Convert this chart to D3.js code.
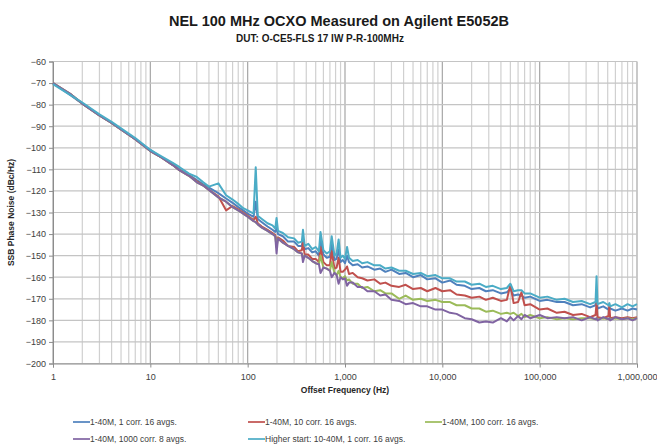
<!DOCTYPE html>
<html>
<head>
<meta charset="utf-8">
<script src="https://cdn.jsdelivr.net/npm/d3@7"></script>
<style>
  body { margin: 0; background: #fff; }
  svg { display: block; font-family: "Liberation Sans", Arial, sans-serif; }
</style>
</head>
<body>
<div id="chart"></div>
<script>
//
//  SSB phase noise chart - NEL 100 MHz OCXO on E5052B
//

// Offset frequencies (Hz), shared by all traces
var freqs = [
  1, 1.5, 2, 3, 4, 5, 7, 10, 13, 17,
  20, 25, 30, 35, 40, 50, 60, 70, 80, 90,
  100, 115, 121, 127, 140, 160, 180, 192, 198, 205,
  230, 260, 300, 330, 360, 370, 385, 420, 460, 500,
  540, 560, 600, 650, 700, 730, 780, 820, 860, 900,
  950, 1000, 1050, 1100, 1200, 1350, 1500, 1700, 2000, 2300,
  2600, 3000, 3600, 4200, 5000, 6000, 7000, 8500, 10000, 12000,
  14000, 17000, 20000, 24000, 28000, 33000, 40000, 46000, 50000, 54000,
  60000, 65000, 70000, 80000, 100000, 120000, 150000, 180000, 220000, 270000,
  330000, 375000, 384000, 393000, 450000, 510000, 520000, 530000, 600000, 700000,
  800000, 900000, 1000000
];

// dBc/Hz, one array per measurement
var oneCorr = [
  -70, -75.5, -79.5, -85, -88.5, -91.5, -96, -101, -104.5, -107.5,
  -110, -112.5, -115, -117, -118.5, -121, -123.5, -125.5, -127.5, -129,
  -130.5, -132, -125, -133, -134.5, -136.5, -138, -139, -137, -140,
  -141, -143.5, -143.5, -145.5, -145.5, -142, -147, -146.5, -148.5, -148,
  -150, -143, -149.5, -151, -150.5, -145, -152, -151.5, -147, -153,
  -152, -153.5, -150, -153, -154.5, -154, -155.5, -155, -156.5, -156,
  -157.5, -156.5, -158.5, -158, -160, -159, -161, -160.5, -162.5, -161.5,
  -163.5, -164, -165.5, -165, -166.5, -166, -167.5, -167, -165.5, -168.5,
  -168, -168.5, -169.5, -169, -171, -170.5, -171.5, -171.5, -173, -172.5,
  -174, -173, -170, -174.5, -173.5, -175, -174, -174.5, -175.5, -174.5,
  -175.5, -174.5, -175
];

var tenCorr = [
  -70, -75, -79.5, -85, -88.5, -91.5, -96, -101.5, -104.5, -108,
  -110.5, -113, -115.5, -117.5, -119.5, -122.5, -129, -127, -128.5, -130,
  -131.5, -133.5, -132, -135, -136.5, -138, -139.5, -140.5, -143, -141.5,
  -143, -145.5, -146, -148, -147.5, -144, -149.5, -149.5, -151.5, -151.5,
  -153, -146, -153, -154.5, -154.5, -148, -156, -155.5, -151, -157.5,
  -157.5, -156.5, -155, -158.5, -158, -160, -160.5, -161.5, -161, -163,
  -162.5, -164, -164.5, -163.5, -165.5, -165, -166.5, -165, -166.5, -166,
  -168, -168.5, -169.5, -169, -170.5, -169.5, -171, -170.5, -163.5, -172,
  -171.5, -167, -173, -172.5, -175, -174.5, -176.5, -176, -177.5, -177,
  -178.5, -177.5, -172, -178.5, -179, -178, -173, -179, -178.5, -179,
  -178.5, -179, -178.5
];

var hundredCorr = [
  -70, -75, -79.5, -85, -88.5, -91.5, -96, -101.5, -104.5, -108,
  -110.5, -113, -116, -117.5, -119.5, -123, -125, -127.5, -129, -130.5,
  -132, -134, -134.5, -135.5, -137, -138.5, -140, -141, -146, -142,
  -144, -145.5, -147, -148.5, -149, -151, -150, -151, -152.5, -153.5,
  -154, -150, -155.5, -156, -157, -153, -158, -159, -157, -160,
  -160.5, -159.5, -161.5, -161, -163, -163, -165, -164.5, -166.5, -166,
  -167.5, -167.5, -170, -168.5, -170.5, -170, -171, -170.5, -171.5, -171.5,
  -173, -173, -174.5, -174.5, -176, -175.5, -177, -176.5, -177, -176.5,
  -178, -177, -178.5, -177.5, -179, -178.5, -179.5, -179, -179.5, -179,
  -179, -179.5, -179, -179.5, -179, -179.5, -179, -179.5, -179, -179.5,
  -179, -179.5, -179
];

var thousandCorr = [
  -70, -75, -79.5, -85, -88.5, -91.5, -96, -101.5, -104.5, -108,
  -110.5, -113, -116, -117.5, -119.5, -123, -125, -127.5, -129, -130.5,
  -132, -134, -134.5, -135.5, -137, -138.5, -140, -141, -149, -142,
  -144, -145.5, -147, -148.5, -149, -153, -150, -151, -152.5, -153.5,
  -154, -158, -155.5, -156, -157, -160, -158, -159, -163, -160,
  -161, -160.5, -164, -162.5, -162.5, -164.5, -164.5, -166.5, -166.5, -168.5,
  -168, -170.5, -171, -172.5, -172, -173.5, -173.5, -175, -175, -176.5,
  -177, -179, -179.5, -181, -180.5, -181, -179, -180.5, -178.5, -180,
  -178, -179.5, -177.5, -179, -177.5, -179, -178.5, -179, -178.5, -180,
  -178.5, -179.5, -179, -180, -178.5, -179.5, -179, -180, -178.5, -179.5,
  -179, -180, -179
];

var higherStart = [
  -70.5, -75.5, -79, -84.5, -88, -91, -95.5, -101, -104, -107,
  -109, -112, -113.5, -116, -118, -116.5, -122, -124, -126, -128,
  -129, -130.5, -109, -131.5, -133, -135, -136, -137.5, -132.5, -138.5,
  -139.5, -141.5, -142, -144, -143.5, -138, -145.5, -144.5, -147, -146,
  -148, -139, -147.5, -149, -148, -141, -150, -149, -142.5, -151,
  -150, -151.5, -146, -151, -152.5, -152, -153.5, -153, -154.5, -154.5,
  -156, -155.5, -157, -157, -158.5, -158, -159.5, -159, -160.5, -160.5,
  -162, -162, -163.5, -163, -164.5, -164, -165.5, -165, -163, -166.5,
  -166, -166, -167.5, -167.5, -169.5, -169, -170.5, -170, -171.5, -171,
  -172.5, -171.5, -159.5, -172.5, -171.5, -173, -172, -173.5, -172.5, -174,
  -172.5, -173.5, -172.5
];

var seriesNames = [
  "1-40M, 1 corr. 16 avgs.",
  "1-40M, 10 corr. 16 avgs.",
  "1-40M, 100 corr. 16 avgs.",
  "1-40M, 1000 corr. 8 avgs.",
  "Higher start: 10-40M, 1 corr. 16 avgs."
];
var seriesValues = [oneCorr, tenCorr, hundredCorr, thousandCorr, higherStart];
var seriesColors = ["#4F81BD", "#C0504D", "#9BBB59", "#8064A2", "#4BACC6"];

var yTicks = [-60, -70, -80, -90, -100, -110, -120, -130, -140, -150, -160, -170, -180, -190, -200];

var width = 657,
  height = 447;

var svg = d3.select("#chart").append("svg")
  .attr("width", width)
  .attr("height", height);

var x = d3.scaleLog()
  .domain([1, 1e6])
  .range([53, 637]);

var y = d3.scaleLinear()
  .domain([-200, -60])
  .range([363.5, 61.5]);

// Titles
svg.append("text")
  .attr("x", 339)
  .attr("y", 26)
  .attr("text-anchor", "middle")
  .style("font-size", "14.5px")
  .style("font-weight", "bold")
  .style("fill", "#1a1a1a")
  .text("NEL 100 MHz OCXO Measured on Agilent E5052B");

svg.append("text")
  .attr("x", 320)
  .attr("y", 42)
  .attr("text-anchor", "middle")
  .style("font-size", "10px")
  .style("font-weight", "bold")
  .style("fill", "#1a1a1a")
  .text("DUT: O-CE5-FLS 17 IW P-R-100MHz");

// Grid
var grid = svg.append("g");
var allTicks = x.ticks();

grid.selectAll(".vgrid")
  .data(allTicks)
  .enter().append("line")
  .attr("x1", function(d) { return x(d); })
  .attr("x2", function(d) { return x(d); })
  .attr("y1", y(-60))
  .attr("y2", y(-200))
  .style("stroke", function(d) {
    var isMajor = Math.abs(Math.log10(d) - Math.round(Math.log10(d))) < 1e-9;
    return isMajor ? "#a6a6a6" : "#d0d0d0";
  })
  .style("stroke-width", 1.2);

grid.selectAll(".hgrid")
  .data(yTicks)
  .enter().append("line")
  .attr("x1", x(1))
  .attr("x2", x(1e6))
  .attr("y1", function(d) { return y(d); })
  .attr("y2", function(d) { return y(d); })
  .style("stroke", "#c4c4c4")
  .style("stroke-width", 1.2);

// Axes
var yAxis = d3.axisLeft(y)
  .tickValues(yTicks)
  .tickSize(4)
  .tickPadding(3);

var xAxis = d3.axisBottom(x)
  .tickValues([1, 10, 100, 1000, 10000, 100000, 1000000])
  .tickFormat(d3.format(","))
  .tickSize(4)
  .tickPadding(6);

var gy = svg.append("g")
  .attr("transform", "translate(53,0)")
  .call(yAxis);

var gx = svg.append("g")
  .attr("transform", "translate(0," + y(-200) + ")")
  .call(xAxis);

[gx, gy].forEach(function(g) {
  g.select(".domain").style("stroke", "#8c8c8c");
  g.selectAll(".tick line").style("stroke", "#8c8c8c");
  g.selectAll(".tick text")
    .style("font-size", "9px")
    .style("fill", "#404040")
    .style("font-family", "'Liberation Sans', Arial, sans-serif");
});

// Axis titles
svg.append("text")
  .attr("x", 345)
  .attr("y", 393)
  .attr("text-anchor", "middle")
  .style("font-size", "8.5px")
  .style("font-weight", "bold")
  .style("fill", "#262626")
  .text("Offset Frequency (Hz)");

svg.append("text")
  .attr("transform", "translate(14," + y(-130) + ") rotate(-90)")
  .attr("text-anchor", "middle")
  .style("font-size", "8.5px")
  .style("font-weight", "bold")
  .style("fill", "#262626")
  .text("SSB Phase Noise (dBc/Hz)");

// Traces
var line = d3.line()
  .x(function(d) { return x(d[0]); })
  .y(function(d) { return y(d[1]); });

seriesValues.forEach(function(vals, i) {
  var pts = freqs.map(function(f, j) { return [f, vals[j]]; });
  svg.append("path")
    .datum(pts)
    .attr("d", line)
    .style("fill", "none")
    .style("stroke", seriesColors[i])
    .style("stroke-width", 2)
    .style("stroke-linejoin", "round");
});

// Legend
var legendCols = [73, 248, 425],
  legendRows = [422, 439];

var legend = svg.append("g")
  .selectAll("g")
  .data(seriesNames)
  .enter().append("g")
  .attr("transform", function(d, i) {
    var col = i < 3 ? i : i - 3;
    var row = i < 3 ? 0 : 1;
    return "translate(" + legendCols[col] + "," + legendRows[row] + ")";
  });

legend.append("line")
  .attr("x1", 0)
  .attr("x2", 17)
  .style("stroke", function(d, i) { return seriesColors[i]; })
  .style("stroke-width", 1.7);

legend.append("text")
  .attr("x", 17)
  .attr("dy", "0.35em")
  .style("font-size", "8.5px")
  .style("fill", "#404040")
  .text(function(d) { return d; });
</script>
</body>
</html>
